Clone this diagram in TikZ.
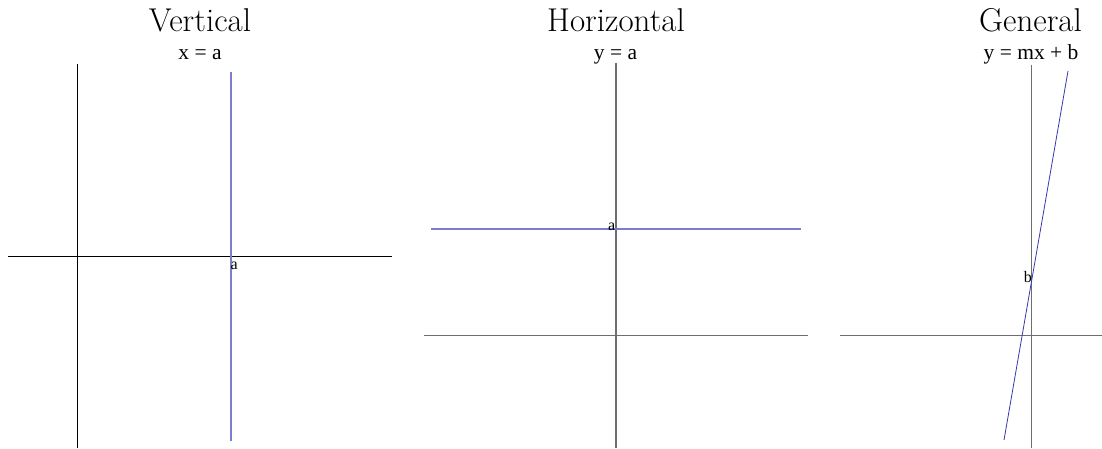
\documentclass[tikz,border=0pt]{standalone}
\usepackage{fontspec}
\newfontfamily\eqfont{Liberation Serif}
\definecolor{axisgray}{RGB}{110,110,110}
\definecolor{lineblue}{RGB}{125,125,208}
\definecolor{darkblue}{RGB}{55,55,175}
\tikzset{
  axisdark/.style={draw=black,line width=0.9pt},
  axislight/.style={draw=axisgray,line width=1.1pt},
  bluelight/.style={draw=lineblue,line width=1.1pt},
  bluedark/.style={draw=darkblue,line width=0.8pt},
  titletext/.style={inner sep=0pt,anchor=base,font=\fontsize{33}{40}\selectfont},
  eqtext/.style={inner sep=0pt,anchor=base,font=\eqfont\fontsize{21.5}{25}\selectfont},
  ptlabel/.style={inner sep=0pt,font=\eqfont\fontsize{16}{19}\selectfont}
}
\begin{document}
\begin{tikzpicture}[x=1pt,y=-1pt]
\useasboundingbox (0,0) rectangle (1102,449);
% Panel 1: Vertical
\node[titletext] (t1) at (200,32) {Vertical};
\node[eqtext] (e1) at (200,60) {x = a};
\coordinate (v1t) at (77,64);
\coordinate (v1b) at (77,448);
\coordinate (h1l) at (8,256);
\coordinate (h1r) at (392,256);
\coordinate (b1t) at (231,72);
\coordinate (b1b) at (231,441);
\draw[axisdark] (v1t) -- (v1b);
\draw[axisdark] (h1l) -- (h1r);
\draw[bluelight] (b1t) -- (b1b);
\node[ptlabel,anchor=base west] (a1) at (230.5,269) {a};
% Panel 2: Horizontal
\node[titletext] (t2) at (616,32) {Horizontal};
\node[eqtext] (e2) at (615.5,60) {y = a};
\coordinate (v2t) at (616,63);
\coordinate (v2b) at (616,448);
\coordinate (h2l) at (424,335.5);
\coordinate (h2r) at (808,335.5);
\coordinate (b2l) at (431,229);
\coordinate (b2r) at (801,229);
\draw[axislight] (v2t) -- (v2b);
\draw[axislight] (h2l) -- (h2r);
\draw[bluelight] (b2l) -- (b2r);
\node[ptlabel,anchor=base east] (a2) at (615.5,230) {a};
% Panel 3: General
\node[titletext] (t3) at (1030.5,32) {General};
\node[eqtext] (e3) at (1031,60) {y = mx + b};
\coordinate (v3t) at (1031.5,65);
\coordinate (v3b) at (1031.5,448);
\coordinate (h3l) at (840,335.5);
\coordinate (h3r) at (1102,335.5);
\coordinate (b3b) at (1004,440);
\coordinate (b3t) at (1068,71);
\draw[axislight] (v3t) -- (v3b);
\draw[axislight] (h3l) -- (h3r);
\draw[bluedark] (b3b) -- (b3t);
\node[ptlabel,anchor=base east] (b3) at (1032,282) {b};
\end{tikzpicture}
\end{document}
